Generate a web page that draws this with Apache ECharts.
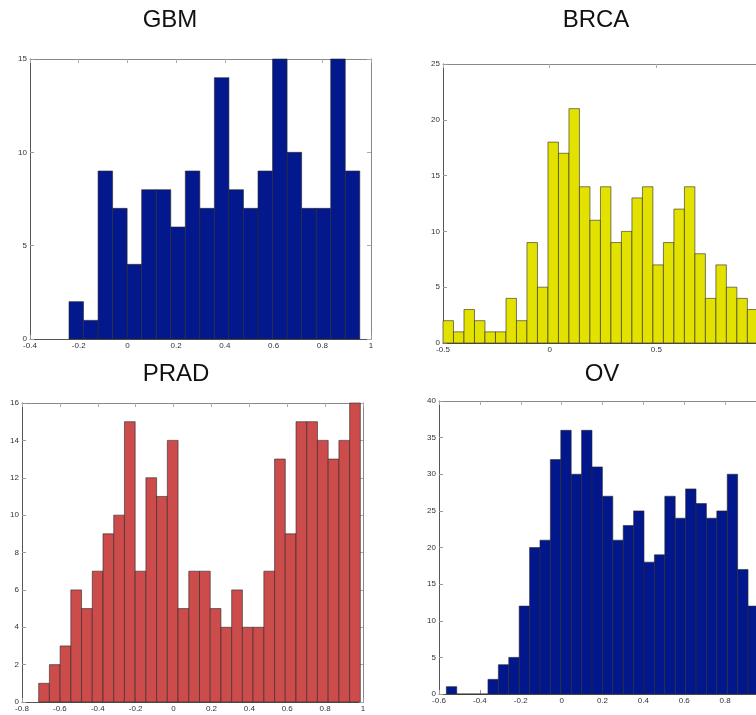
<!DOCTYPE html>
<html>
<head>
<meta charset="utf-8">
<script src="https://cdn.jsdelivr.net/npm/echarts@6/dist/echarts.min.js"></script>
<style>
html, body { margin: 0; padding: 0; background: #fff; }
#main { width: 756px; height: 715px; }
</style>
</head>
<body>
<div id="main"></div>
<script>
// histogram counts, bin edges start at *Start and step by *Width
const gbmCounts = [2, 1, 9, 7, 4, 8, 8, 6, 9, 7, 14, 8, 7, 9, 15, 10, 7, 7, 15, 9]
const gbmStart = -0.24
const gbmWidth = 0.0597

const brcaCounts = [2, 1, 3, 2, 1, 1, 4, 2, 9, 5, 18, 17, 21, 14, 11, 14, 9, 10, 13, 14, 7, 9, 12, 14, 8, 4, 7, 5, 4, 3]
const brcaStart = -0.5
const brcaWidth = 0.0492

const pradCounts = [1, 2, 3, 6, 5, 7, 9, 10, 15, 7, 12, 11, 14, 5, 7, 7, 5, 4, 6, 4, 4, 7, 13, 9, 15, 15, 14, 13, 14, 16]
const pradStart = -0.712
const pradWidth = 0.0566

const ovCounts = [1, 0, 0, 0, 2, 4, 5, 12, 20, 21, 32, 36, 30, 36, 31, 27, 21, 23, 25, 18, 19, 27, 24, 28, 26, 24, 25, 30, 17, 12]
const ovStart = -0.564
const ovWidth = 0.0509

const titles = ['GBM', 'BRCA', 'PRAD', 'OV']

// axis ranges / ticks
const xRanges = [[-0.4, 1, 0.2], [-0.5, 1, 0.5], [-0.8, 1, 0.2], [-0.6, 1, 0.2]]
const yRanges = [[0, 15, 5], [0, 25, 5], [0, 16, 2], [0, 40, 5]]

const panels = [
  { counts: gbmCounts, start: gbmStart, width: gbmWidth, color: '#03188c' },
  { counts: brcaCounts, start: brcaStart, width: brcaWidth, color: '#e2e100' },
  { counts: pradCounts, start: pradStart, width: pradWidth, color: '#cc4b4b' },
  { counts: ovCounts, start: ovStart, width: ovWidth, color: '#03178c' }
]

const grids = [
  { left: 30, top: 59, width: 341, height: 280 },
  { left: 443, top: 64, width: 320, height: 279 },
  { left: 22, top: 403, width: 341, height: 299 },
  { left: 439, top: 401, width: 327, height: 293 }
]
const titlePos = [[170, 20], [596, 20], [176, 374], [602, 374]]

const font = 'Liberation Sans, Arial, sans-serif'
const lineColor = '#555'

function binData (p) {
  return p.counts.map((c, i) => [p.start + i * p.width, p.start + (i + 1) * p.width, c])
}

const xAxis = []
const yAxis = []
grids.forEach((g, i) => {
  const xr = xRanges[i]
  const yr = yRanges[i]
  xAxis.push({
    type: 'value', gridIndex: i, position: 'bottom',
    min: xr[0], max: xr[1], interval: xr[2],
    axisLine: { onZero: false, lineStyle: { color: lineColor, width: 1 } },
    axisTick: { inside: true, length: 4, lineStyle: { color: '#999' } },
    axisLabel: { fontSize: 8, color: '#333', fontFamily: font, margin: 3 },
    splitLine: { show: false }
  })
  yAxis.push({
    type: 'value', gridIndex: i, position: 'left',
    min: yr[0], max: yr[1], interval: yr[2],
    axisLine: { show: true, onZero: false, lineStyle: { color: lineColor, width: 1 } },
    axisTick: { show: true, inside: true, length: 4, lineStyle: { color: '#999' } },
    axisLabel: { fontSize: 8, color: '#333', fontFamily: font, margin: 3 },
    splitLine: { show: false }
  })
})
grids.forEach((g, i) => {
  const xr = xRanges[i]
  const yr = yRanges[i]
  xAxis.push({
    type: 'value', gridIndex: i, position: 'top',
    min: xr[0], max: xr[1], interval: xr[2],
    axisLine: { onZero: false, lineStyle: { color: '#888', width: 1 } },
    axisTick: { inside: true, length: 4, lineStyle: { color: '#aaa' } },
    axisLabel: { show: false },
    splitLine: { show: false }
  })
  yAxis.push({
    type: 'value', gridIndex: i, position: 'right',
    min: yr[0], max: yr[1], interval: yr[2],
    axisLine: { show: true, onZero: false, lineStyle: { color: '#888', width: 1 } },
    axisTick: { show: true, inside: true, length: 4, lineStyle: { color: '#aaa' } },
    axisLabel: { show: false },
    splitLine: { show: false }
  })
})

const series = panels.map((p, i) => ({
  type: 'custom',
  xAxisIndex: i,
  yAxisIndex: i,
  data: binData(p),
  encode: { x: [0, 1], y: 2 },
  renderItem (params, api) {
    const a = api.coord([api.value(0), 0])
    const b = api.coord([api.value(1), api.value(2)])
    return {
      type: 'rect',
      shape: { x: a[0], y: b[1], width: b[0] - a[0], height: a[1] - b[1] },
      style: { fill: p.color, stroke: '#2a2a2a', lineWidth: 0.6 }
    }
  },
  silent: true
}))

const chart = echarts.init(document.getElementById('main'))
chart.setOption({
  animation: false,
  backgroundColor: '#fff',
  grid: grids.map(g => Object.assign({ containLabel: false, outerBoundsMode: 'none' }, g)),
  xAxis: xAxis,
  yAxis: yAxis,
  graphic: titles.map((t, i) => ({
    type: 'text',
    x: titlePos[i][0],
    y: titlePos[i][1],
    style: {
      text: t, fontSize: 24, fontFamily: font, fill: '#111',
      align: 'center', verticalAlign: 'middle'
    }
  })),
  series: series
})
</script>
</body>
</html>
